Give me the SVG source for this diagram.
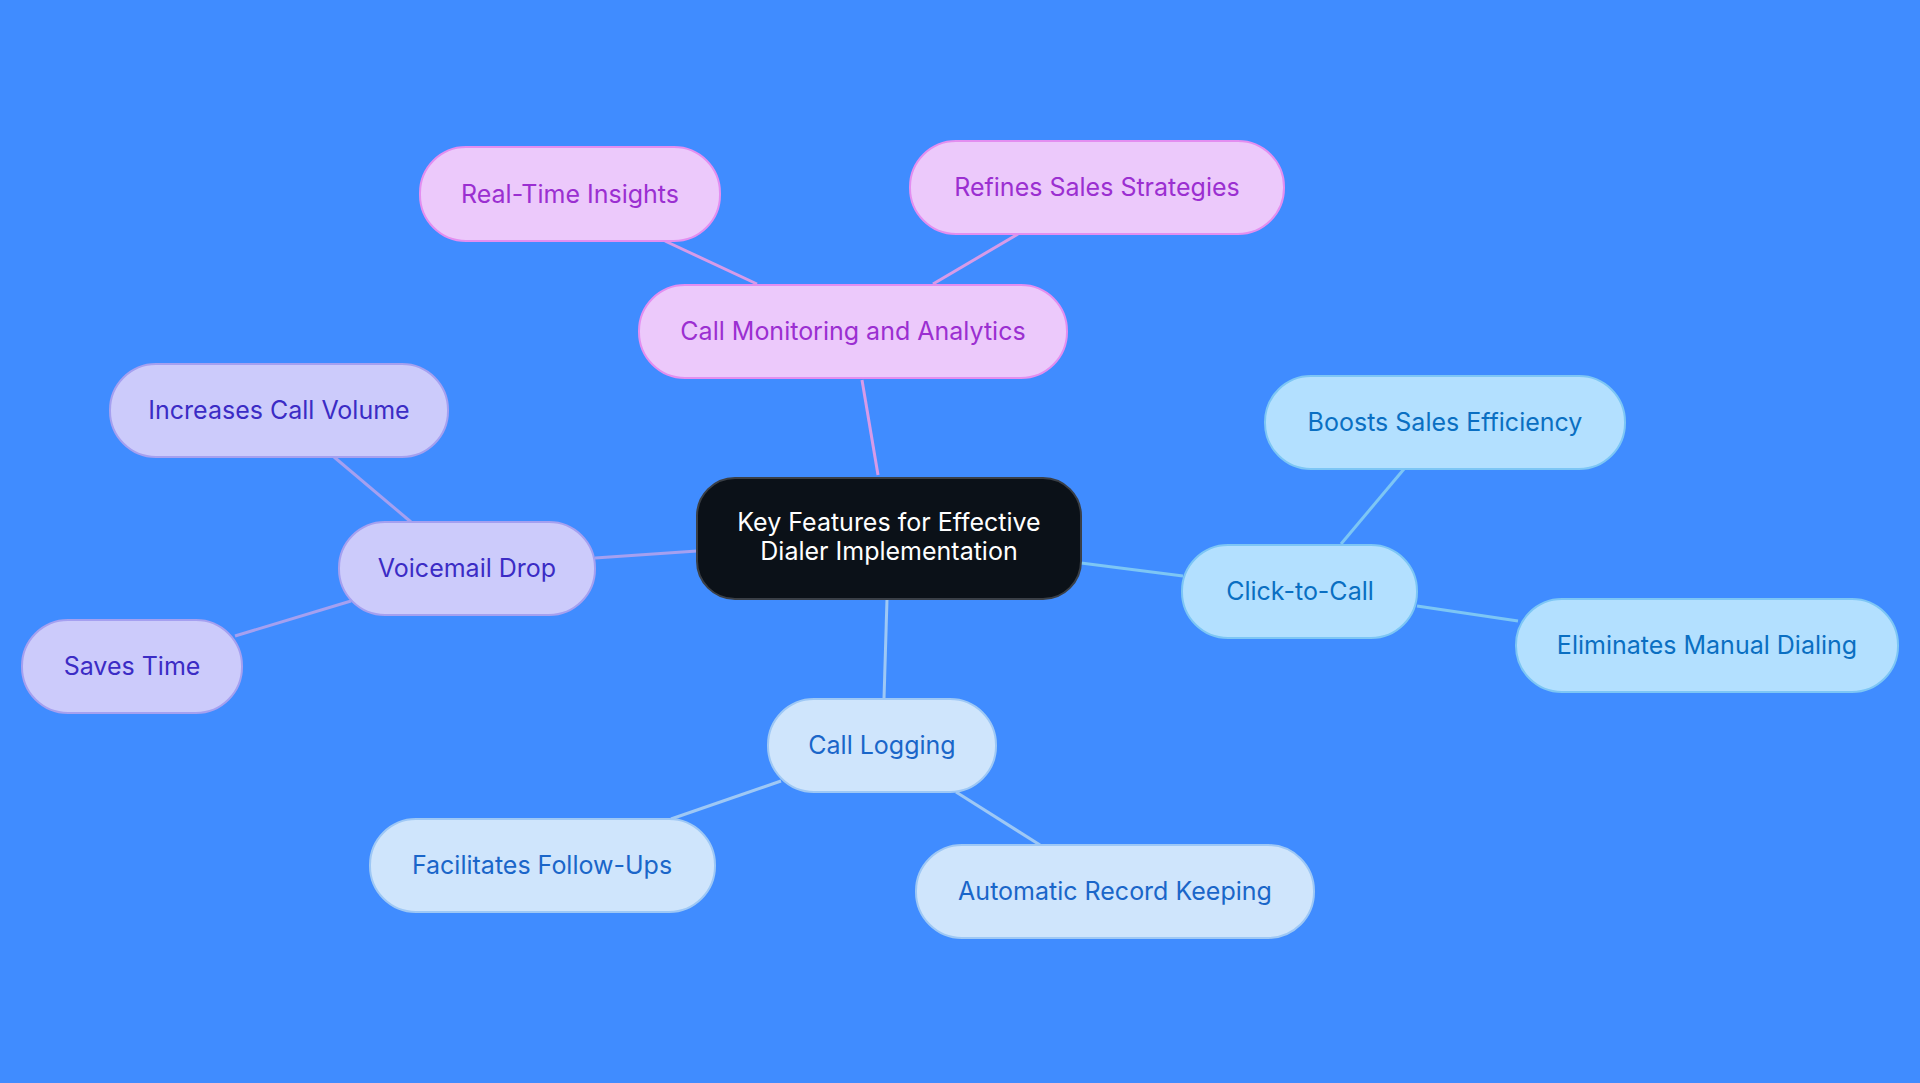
<svg xmlns="http://www.w3.org/2000/svg" width="1920" height="1083" viewBox="0 0 1920 1083">
<style>
text{font-family:Inter,"Noto Sans",sans-serif;font-size:25px;text-anchor:middle;dominant-baseline:central}
.c line{stroke-width:3}
.m rect{fill:#ecc9fb;stroke:#e38ef0;stroke-width:2}.m text{fill:#9b2fd1}
.v rect{fill:#cccbfb;stroke:#a5a0f0;stroke-width:2}.v text{fill:#3b2cc5}
.k rect{fill:#b3e0ff;stroke:#7dc6f5;stroke-width:2}.k text{fill:#0a6fc2}
.l rect{fill:#cfe5fc;stroke:#9ec8f5;stroke-width:2}.l text{fill:#1a66c9}
</style>
<rect width="1920" height="1083" fill="#408cff"/>
<g id="connectors" class="c">
<line x1="878" y1="475" x2="862" y2="380" stroke="#d79be8"/>
<line x1="757" y1="284" x2="665" y2="241" stroke="#d79be8"/>
<line x1="933" y1="284" x2="1018" y2="234" stroke="#d79be8"/>
<line x1="697" y1="551" x2="595" y2="558" stroke="#a5a0f0"/>
<line x1="411" y1="522" x2="334" y2="457" stroke="#a5a0f0"/>
<line x1="351" y1="601" x2="235" y2="636" stroke="#a5a0f0"/>
<line x1="1081" y1="563" x2="1183" y2="576" stroke="#7dc6f5"/>
<line x1="1341" y1="544" x2="1404" y2="469" stroke="#7dc6f5"/>
<line x1="1417" y1="606" x2="1518" y2="621" stroke="#7dc6f5"/>
<line x1="887" y1="599" x2="884" y2="699" stroke="#9ec8f5"/>
<line x1="781" y1="781" x2="671" y2="819" stroke="#9ec8f5"/>
<line x1="956" y1="792" x2="1040" y2="845" stroke="#9ec8f5"/>
</g>
<g id="center"><rect x="697" y="478" width="384" height="121" rx="38" fill="#0b1118" stroke="#3a3f46" stroke-width="2"/>
<text x="889" y="522" fill="#fff">Key Features for Effective</text><text x="889" y="551" fill="#fff">Dialer Implementation</text></g>
<g id="monitoring" class="m"><rect x="639" y="285" width="428" height="93" rx="46"/><text x="853" y="331">Call Monitoring and Analytics</text></g>
<g id="rti" class="m"><rect x="420" y="147" width="300" height="94" rx="46"/><text x="570" y="194">Real-Time Insights</text></g>
<g id="rss" class="m"><rect x="910" y="141" width="374" height="93" rx="46"/><text x="1097" y="187">Refines Sales Strategies</text></g>
<g id="voicemail" class="v"><rect x="339" y="522" width="256" height="93" rx="46"/><text x="467" y="568">Voicemail Drop</text></g>
<g id="icv" class="v"><rect x="110" y="364" width="338" height="93" rx="46"/><text x="279" y="410">Increases Call Volume</text></g>
<g id="saves" class="v"><rect x="22" y="620" width="220" height="93" rx="46"/><text x="132" y="666">Saves Time</text></g>
<g id="click" class="k"><rect x="1182" y="545" width="235" height="93" rx="46"/><text x="1300" y="591">Click-to-Call</text></g>
<g id="boosts" class="k"><rect x="1265" y="376" width="360" height="93" rx="46"/><text x="1445" y="422">Boosts Sales Efficiency</text></g>
<g id="elim" class="k"><rect x="1516" y="599" width="382" height="93" rx="46"/><text x="1707" y="645">Eliminates Manual Dialing</text></g>
<g id="logging" class="l"><rect x="768" y="699" width="228" height="93" rx="46"/><text x="882" y="745">Call Logging</text></g>
<g id="ffu" class="l"><rect x="370" y="819" width="345" height="93" rx="46"/><text x="542" y="865">Facilitates Follow-Ups</text></g>
<g id="ark" class="l"><rect x="916" y="845" width="398" height="93" rx="46"/><text x="1115" y="891">Automatic Record Keeping</text></g>
</svg>
